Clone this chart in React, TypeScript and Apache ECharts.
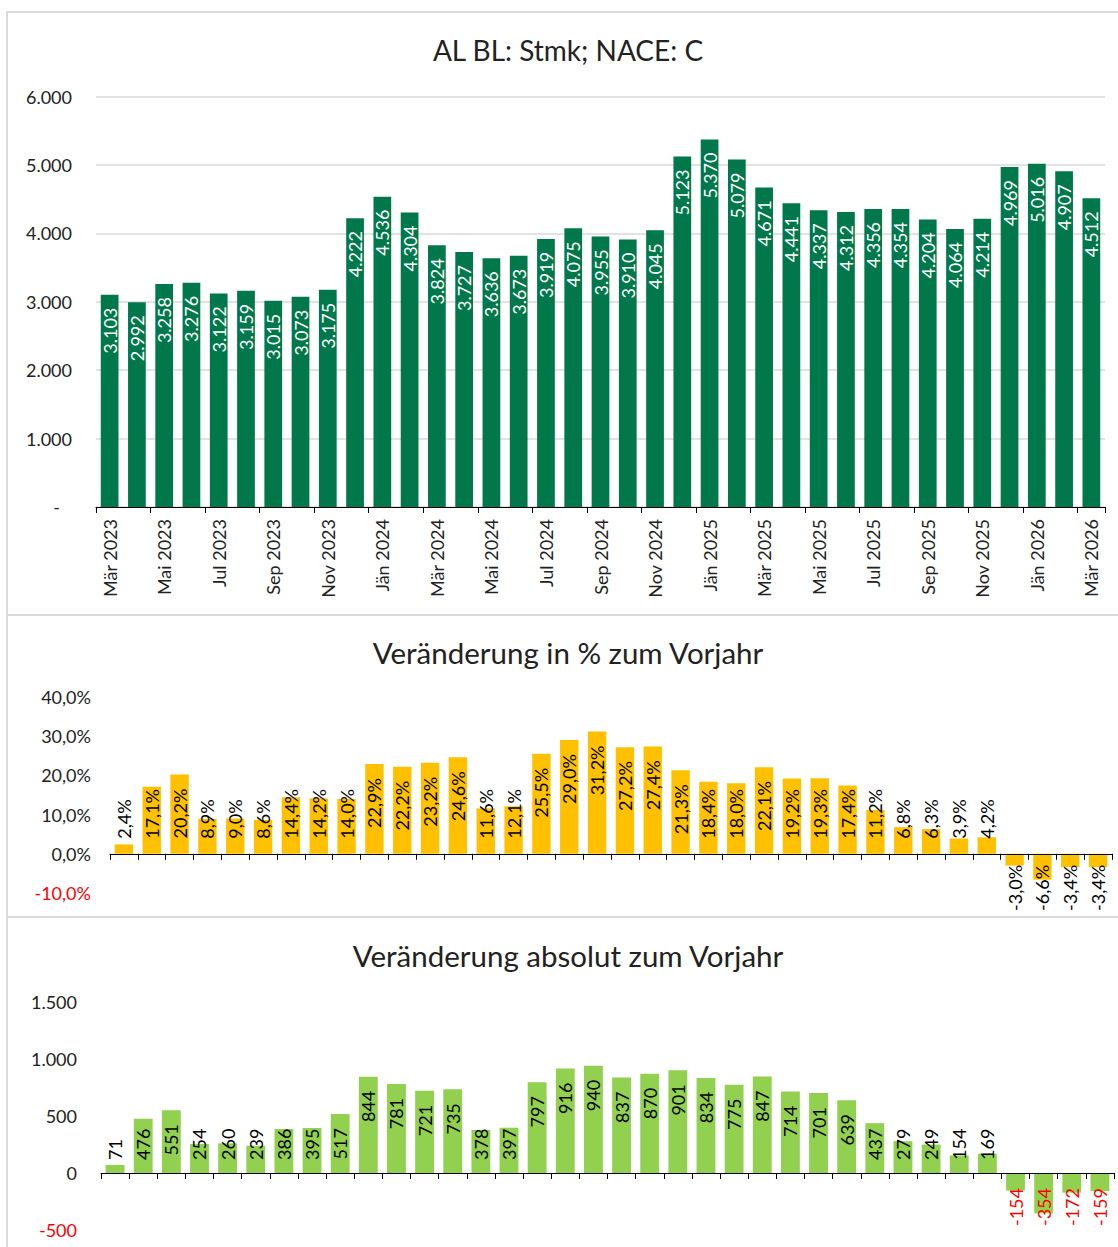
import React, { useEffect, useRef } from 'react';
import * as echarts from 'echarts';

// ---------- data ----------
const months = [
  'Mär 2023', 'Apr 2023', 'Mai 2023', 'Jun 2023', 'Jul 2023', 'Aug 2023', 'Sep 2023', 'Okt 2023', 'Nov 2023', 'Dez 2023',
  'Jän 2024', 'Feb 2024', 'Mär 2024', 'Apr 2024', 'Mai 2024', 'Jun 2024', 'Jul 2024', 'Aug 2024', 'Sep 2024', 'Okt 2024', 'Nov 2024', 'Dez 2024',
  'Jän 2025', 'Feb 2025', 'Mär 2025', 'Apr 2025', 'Mai 2025', 'Jun 2025', 'Jul 2025', 'Aug 2025', 'Sep 2025', 'Okt 2025', 'Nov 2025', 'Dez 2025',
  'Jän 2026', 'Feb 2026', 'Mär 2026',
];

const stockValues = [
  3103, 2992, 3258, 3276, 3122, 3159, 3015, 3073, 3175, 4222,
  4536, 4304, 3824, 3727, 3636, 3673, 3919, 4075, 3955, 3910, 4045, 5123,
  5370, 5079, 4671, 4441, 4337, 4312, 4356, 4354, 4204, 4064, 4214, 4969,
  5016, 4907, 4512,
];

// year-on-year changes start one month later (Apr 2023)
const changeMonths = months.slice(1);

const pctChange = [
  2.4, 17.1, 20.2, 8.9, 9.0, 8.6, 14.4, 14.2, 14.0,
  22.9, 22.2, 23.2, 24.6, 11.6, 12.1, 25.5, 29.0, 31.2, 27.2, 27.4, 21.3,
  18.4, 18.0, 22.1, 19.2, 19.3, 17.4, 11.2, 6.8, 6.3, 3.9, 4.2, -3.0,
  -6.6, -3.4, -3.4,
];

const absChange = [
  71, 476, 551, 254, 260, 239, 386, 395, 517,
  844, 781, 721, 735, 378, 397, 797, 916, 940, 837, 870, 901,
  834, 775, 847, 714, 701, 639, 437, 279, 249, 154, 169, -154,
  -354, -172, -159,
];

const stockTicks = [0, 1000, 2000, 3000, 4000, 5000, 6000];
const pctTicks = [-10, 0, 10, 20, 30, 40];
const absTicks = [-500, 0, 500, 1000, 1500];

const titleMain = 'AL BL: Stmk; NACE: C';
const titlePct = 'Veränderung in % zum Vorjahr';
const titleAbs = 'Veränderung absolut zum Vorjahr';

// ---------- styling ----------
const FONT = 'Lato, "Open Sans", sans-serif';
const AXIS_FS = 18;
const LABEL_FS = 18;
const TITLE_FS_MAIN = 28;
const TITLE_FS_SUB = 29.5;
const TEXT = '#222222';
const RED = '#ff0000';
const GREEN_DARK = '#00784B';
const YELLOW = '#FFC000';
const GREEN_LIGHT = '#92D050';
const BORDER = '#d9d9d9';

const fmtThousands = (v: number) => {
  const s = Math.abs(Math.round(v)).toString().replace(/\B(?=(\d{3})+(?!\d))/g, '.');
  return (v < 0 ? '-' : '') + s;
};
const fmtPct = (v: number) => v.toFixed(1).replace('.', ',') + '%';

let measureCtx: CanvasRenderingContext2D | null = null;
function textWidth(t: string, size: number) {
  if (!measureCtx) measureCtx = document.createElement('canvas').getContext('2d');
  if (!measureCtx) return t.length * size * 0.55;
  measureCtx.font = `${size}px Lato`;
  return measureCtx.measureText(t).width;
}

// Excel-like "inside end" placement that falls back to the base for short bars
function placeLabels(
  values: number[],
  fmt: (v: number) => string,
  pxPerUnit: number,
  topDist: number,
  baseDist: number,
  negDist: number,
  posColor: string,
  negColor: string,
) {
  return values.map((v) => {
    const L = textWidth(fmt(v), LABEL_FS);
    const h = Math.abs(v) * pxPerUnit;
    let pos: any;
    if (v >= 0) {
      if (h - topDist - L >= baseDist) pos = { position: 'insideTop', distance: topDist, align: 'right' };
      else pos = { position: 'insideBottom', distance: baseDist, align: 'left' };
    } else {
      pos = { position: 'insideTop', distance: negDist, align: 'right' };
    }
    return { value: v, label: { ...pos, color: v < 0 ? negColor : posColor } };
  });
}

// grid geometry
const G1 = { left: 96, top: 96.5, width: 1009, height: 410.5 };
const G2 = { left: 110, top: 697, width: 1002, height: 196 };
const G3 = { left: 101, top: 1002, width: 1013, height: 228 };

function buildOption() {
  const pctPx = G2.height / (pctTicks[pctTicks.length - 1] - pctTicks[0]);
  const absPx = G3.height / (absTicks[absTicks.length - 1] - absTicks[0]);

  const commonLabel = {
    show: true,
    rotate: 90,
    verticalAlign: 'middle',
    fontSize: LABEL_FS,
    fontFamily: FONT,
  };

  const changeAxis = (gridIndex: number) => ({
    gridIndex,
    type: 'category',
    data: changeMonths,
    axisLine: { show: true, onZero: true, lineStyle: { color: '#000', width: 1 } },
    axisTick: { show: true, interval: 0, length: 6, inside: false, lineStyle: { color: '#000', width: 1 } },
    axisLabel: { show: false },
    z: 10,
  });

  return {
    animation: false,
    backgroundColor: '#ffffff',
    textStyle: { fontFamily: FONT },
    graphic: [
      { type: 'rect', shape: { x: 7, y: 12, width: 1130, height: 603 }, style: { fill: 'none', stroke: BORDER, lineWidth: 2 }, z: 0 },
      { type: 'rect', shape: { x: 7, y: 615, width: 1130, height: 302 }, style: { fill: 'none', stroke: BORDER, lineWidth: 2 }, z: 0 },
      { type: 'rect', shape: { x: 7, y: 917, width: 1130, height: 360 }, style: { fill: 'none', stroke: BORDER, lineWidth: 2 }, z: 0 },
      { type: 'text', x: 568, y: 50, style: { text: titleMain, fontSize: TITLE_FS_MAIN, fontFamily: FONT, fill: TEXT, align: 'center', verticalAlign: 'middle' } },
      { type: 'text', x: 568, y: 652, style: { text: titlePct, fontSize: TITLE_FS_SUB, fontFamily: FONT, fill: TEXT, align: 'center', verticalAlign: 'middle' } },
      { type: 'text', x: 568, y: 955, style: { text: titleAbs, fontSize: TITLE_FS_SUB, fontFamily: FONT, fill: TEXT, align: 'center', verticalAlign: 'middle' } },
    ],
    grid: [
      { ...G1, containLabel: false },
      { ...G2, containLabel: false },
      { ...G3, containLabel: false },
    ],
    xAxis: [
      {
        gridIndex: 0,
        type: 'category',
        data: months,
        axisLine: { show: true, lineStyle: { color: '#000', width: 1 } },
        axisTick: { show: true, interval: 1, length: 6, lineStyle: { color: '#000', width: 1 } },
        axisLabel: { interval: 1, rotate: 90, fontSize: AXIS_FS, fontFamily: FONT, color: TEXT, margin: 12 },
      },
      changeAxis(1),
      changeAxis(2),
    ],
    yAxis: [
      {
        gridIndex: 0,
        type: 'value',
        min: stockTicks[0],
        max: stockTicks[stockTicks.length - 1],
        interval: 1000,
        axisLine: { show: false },
        axisTick: { show: false },
        splitLine: { lineStyle: { color: BORDER, width: 1.5 } },
        axisLabel: {
          margin: 24,
          fontSize: AXIS_FS,
          fontFamily: FONT,
          color: TEXT,
          formatter: (v: number) => (v === 0 ? '{dash|-}' : fmtThousands(v)),
          rich: { dash: { fontSize: AXIS_FS, fontFamily: FONT, color: TEXT, padding: [0, 12, 0, 0] } },
        },
      },
      {
        gridIndex: 1,
        type: 'value',
        min: pctTicks[0],
        max: pctTicks[pctTicks.length - 1],
        interval: 10,
        axisLine: { show: false },
        axisTick: { show: false },
        splitLine: { show: false },
        axisLabel: {
          margin: 19,
          fontSize: AXIS_FS,
          fontFamily: FONT,
          color: (v: any) => (Number(v) < 0 ? RED : TEXT),
          formatter: (v: number) => fmtPct(v),
        },
      },
      {
        gridIndex: 2,
        type: 'value',
        min: absTicks[0],
        max: absTicks[absTicks.length - 1],
        interval: 500,
        axisLine: { show: false },
        axisTick: { show: false },
        splitLine: { show: false },
        axisLabel: {
          margin: 24,
          fontSize: AXIS_FS,
          fontFamily: FONT,
          color: (v: any) => (Number(v) < 0 ? RED : TEXT),
          formatter: (v: number) => fmtThousands(v),
        },
      },
    ],
    series: [
      {
        type: 'bar',
        xAxisIndex: 0,
        yAxisIndex: 0,
        barCategoryGap: '35%',
        itemStyle: { color: GREEN_DARK },
        label: {
          ...commonLabel,
          position: 'insideTop',
          distance: 13,
          align: 'right',
          color: '#ffffff',
          formatter: (p: any) => fmtThousands(p.value),
        },
        data: stockValues,
      },
      {
        type: 'bar',
        xAxisIndex: 1,
        yAxisIndex: 1,
        barCategoryGap: '34%',
        itemStyle: { color: YELLOW },
        label: { ...commonLabel, color: '#000', formatter: (p: any) => fmtPct(p.value) },
        data: placeLabels(pctChange, fmtPct, pctPx, 14, 15, 11, '#000000', '#000000'),
      },
      {
        type: 'bar',
        xAxisIndex: 2,
        yAxisIndex: 2,
        barCategoryGap: '33%',
        itemStyle: { color: GREEN_LIGHT },
        label: { ...commonLabel, color: '#000', formatter: (p: any) => fmtThousands(p.value) },
        data: placeLabels(absChange, fmtThousands, absPx, 14, 13, 15, '#000000', RED),
      },
    ],
  };
}

export default function App() {
  const ref = useRef<HTMLDivElement>(null);
  useEffect(() => {
    document.body.style.margin = '0';
    if (!ref.current) return;
    const chart = echarts.init(ref.current, null, { renderer: 'svg' });
    chart.setOption(buildOption() as any);
    return () => chart.dispose();
  }, []);
  return <div ref={ref} style={{ width: 1118, height: 1247 }} />;
}
